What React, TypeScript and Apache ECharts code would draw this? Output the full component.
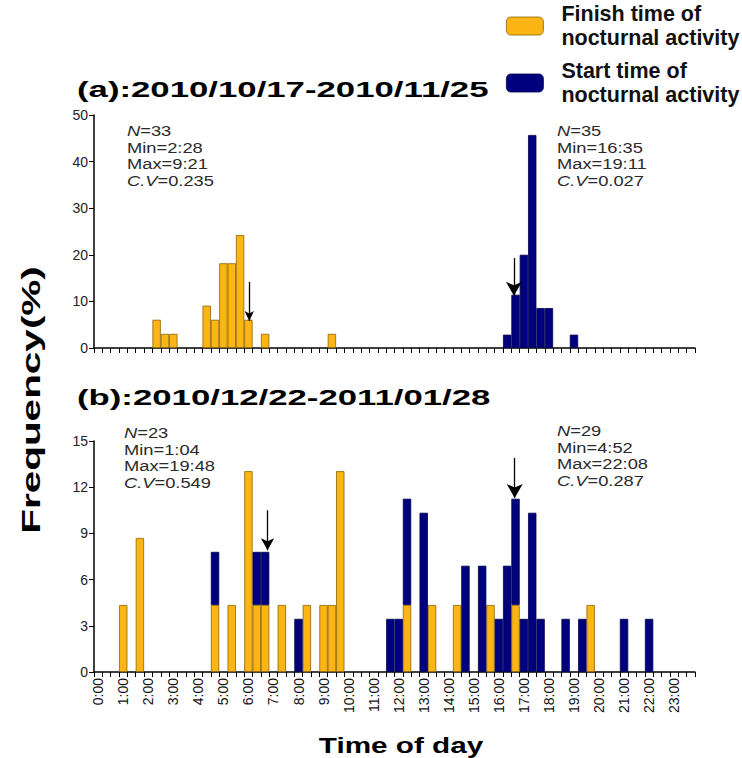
import React, { useEffect, useRef } from "react";
import * as echarts from "echarts";

// 20-minute bins over the day: "0:00", "0:20", ... "23:40"
const BIN_LABELS: string[] = [];
for (let h = 0; h < 24; h++) for (const m of ["00", "20", "40"]) BIN_LABELS.push(`${h}:${m}`);

// (a) 2010/10/17-2010/11/25  — percentages per 20-min bin (bin index -> value)
const aFinishBins = [7, 8, 9, 13, 14, 15, 16, 17, 18, 20, 28];
const aFinishPct = [6.06, 3.03, 3.03, 9.09, 6.06, 18.18, 18.18, 24.24, 6.06, 3.03, 3.03];
const aStartBins = [49, 50, 51, 52, 53, 54, 57];
const aStartPct = [2.86, 11.43, 20.0, 45.71, 8.57, 8.57, 2.86];

// (b) 2010/12/22-2011/01/28
const bFinishBins = [3, 5, 14, 16, 18, 19, 20, 22, 25, 27, 28, 29, 37, 40, 43, 47, 50, 59];
const bFinishPct = [4.35, 8.7, 4.35, 4.35, 13.04, 4.35, 4.35, 4.35, 4.35, 4.35, 4.35, 13.04, 4.35, 4.35, 4.35, 4.35, 4.35, 4.35];
const bStartBins = [14, 19, 20, 24, 35, 36, 37, 39, 44, 46, 48, 49, 50, 51, 52, 53, 56, 58, 63, 66];
const bStartPct = [3.45, 3.45, 3.45, 3.45, 3.45, 3.45, 6.9, 10.34, 6.9, 6.9, 3.45, 6.9, 6.9, 3.45, 10.34, 3.45, 3.45, 3.45, 3.45, 3.45];

// mean-time arrows: [hour of day, arrow tail %, arrow tip %]
const aFinishArrow = [6.2, 14.2, 5.8];
const aStartArrow = [16.77, 19.3, 11.2];
const bFinishArrow = [6.93, 10.5, 7.9];
const bStartArrow = [16.8, 13.9, 11.3];

const statsAFinish = ["{i|N}=33", "Min=2:28", "Max=9:21", "{i|C.V}=0.235"];
const statsAStart = ["{i|N}=35", "Min=16:35", "Max=19:11", "{i|C.V}=0.027"];
const statsBFinish = ["{i|N}=23", "Min=1:04", "Max=19:48", "{i|C.V}=0.549"];
const statsBStart = ["{i|N}=29", "Min=4:52", "Max=22:08", "{i|C.V}=0.287"];

const FINISH = "Finish time of\nnocturnal activity";
const START = "Start time of\nnocturnal activity";
const ORANGE = "#FDB515";
const NAVY = "#00007E";
const FONT = "'Liberation Sans', Arial, sans-serif";

function toBins(bins: number[], vals: number[]) {
  const arr: (number | string)[] = BIN_LABELS.map(() => "-");
  bins.forEach((b, i) => (arr[b] = vals[i]));
  return arr;
}

function arrowSeries(xIdx: number, yIdx: number, arr: number[], size: number[]) {
  return {
    type: "line",
    xAxisIndex: xIdx,
    yAxisIndex: yIdx,
    data: [],
    silent: true,
    markLine: {
      silent: true,
      symbol: ["none", "arrow"],
      symbolSize: size,
      label: { show: false },
      lineStyle: { color: "#000", width: 1.3, type: "solid" },
      data: [[{ coord: [arr[0], arr[1]] }, { coord: [arr[0], arr[2]] }]],
    },
  };
}

function statText(x: number, y: number, lines: string[]) {
  return {
    type: "text",
    x,
    y,
    scaleX: 1.22,
    style: {
      text: lines.join("\n"),
      fontFamily: FONT,
      fontSize: 15,
      lineHeight: 16.5,
      fill: "#2a2a2a",
      rich: { i: { fontStyle: "italic", fontFamily: FONT, fontSize: 15, lineHeight: 16.5, fill: "#2a2a2a" } },
    },
  };
}

const xCat = (grid: number, labels: boolean) => ({
  type: "category",
  gridIndex: grid,
  data: BIN_LABELS,
  boundaryGap: true,
  axisLine: { show: true, lineStyle: { color: "#000", width: 1.5 } },
  axisTick: { show: true, interval: 0, length: 5, lineStyle: { color: "#000", width: 1 } },
  axisLabel: labels
    ? { show: true, interval: 2, rotate: 90, fontSize: 14, fontFamily: FONT, color: "#111", margin: 6 }
    : { show: false },
  splitLine: { show: false },
});

const yVal = (grid: number, max: number, interval: number) => ({
  type: "value",
  gridIndex: grid,
  min: 0,
  max,
  interval,
  axisLine: { show: true, lineStyle: { color: "#000", width: 1.5 } },
  axisTick: { show: true, length: 5, lineStyle: { color: "#000" } },
  axisLabel: { fontSize: 14, fontFamily: FONT, color: "#222", margin: 6 },
  splitLine: { show: false },
});

export default function App() {
  const ref = useRef<HTMLDivElement>(null);
  useEffect(() => {
    if (!ref.current) return;
    const chart = echarts.init(ref.current, null, { renderer: "svg" });
    const barStyle = (c: string, b: string) => ({ color: c, borderColor: b, borderWidth: 0.8 });
    chart.setOption({
      animation: false,
      backgroundColor: "#fff",
      grid: [
        { left: 94, top: 115, width: 601, height: 233 },
        { left: 94, top: 441, width: 601, height: 231 },
      ],
      legend: {
        data: [FINISH, START],
        orient: "vertical",
        left: 506,
        top: 2,
        padding: 0,
        itemWidth: 37,
        itemHeight: 18,
        itemGap: 9,
        selectedMode: false,
        itemStyle: { borderWidth: 0.8 },
        textStyle: { fontFamily: FONT, fontWeight: "bold", fontSize: 21.5, lineHeight: 24, color: "#111", padding: [0, 0, 0, 13] },
      },
      xAxis: [
        xCat(0, false),
        xCat(1, true),
        { type: "value", gridIndex: 0, min: 0, max: 24, show: false },
        { type: "value", gridIndex: 1, min: 0, max: 24, show: false },
      ],
      yAxis: [yVal(0, 50, 10), yVal(1, 15, 3)],
      series: [
        { name: FINISH, type: "bar", xAxisIndex: 0, yAxisIndex: 0, stack: "a", barCategoryGap: "0%", itemStyle: barStyle(ORANGE, "#8a6500"), data: toBins(aFinishBins, aFinishPct) },
        { name: START, type: "bar", xAxisIndex: 0, yAxisIndex: 0, stack: "a", barCategoryGap: "0%", itemStyle: barStyle(NAVY, "#00004a"), data: toBins(aStartBins, aStartPct) },
        { name: FINISH, type: "bar", xAxisIndex: 1, yAxisIndex: 1, stack: "b", barCategoryGap: "0%", itemStyle: barStyle(ORANGE, "#8a6500"), data: toBins(bFinishBins, bFinishPct) },
        { name: START, type: "bar", xAxisIndex: 1, yAxisIndex: 1, stack: "b", barCategoryGap: "0%", itemStyle: barStyle(NAVY, "#00004a"), data: toBins(bStartBins, bStartPct) },
        arrowSeries(2, 0, aFinishArrow, [7, 10]),
        arrowSeries(2, 0, aStartArrow, [12, 14]),
        arrowSeries(3, 1, bFinishArrow, [10, 12]),
        arrowSeries(3, 1, bStartArrow, [12, 14]),
      ],
      graphic: [
        { type: "text", x: 77, y: 78, scaleX: 1.58, style: { text: "(a):2010/10/17-2010/11/25", fontFamily: FONT, fontWeight: "bold", fontSize: 22, fill: "#000" } },
        { type: "text", x: 77, y: 386, scaleX: 1.58, style: { text: "(b):2010/12/22-2011/01/28", fontFamily: FONT, fontWeight: "bold", fontSize: 22, fill: "#000" } },
        { type: "text", x: 31, y: 400, rotation: Math.PI / 2, scaleX: 1.62, style: { text: "Frequency(%)", fontFamily: FONT, fontWeight: "bold", fontSize: 25, fill: "#000", align: "center", verticalAlign: "middle" } },
        { type: "text", x: 401, y: 745, scaleX: 1.35, style: { text: "Time of day", fontFamily: FONT, fontWeight: "bold", fontSize: 22, fill: "#000", align: "center", verticalAlign: "middle" } },
        statText(127, 123, statsAFinish),
        statText(557, 123, statsAStart),
        statText(124, 425, statsBFinish),
        statText(557, 423, statsBStart),
      ],
    });
    return () => chart.dispose();
  }, []);
  return <div ref={ref} style={{ position: "absolute", left: 0, top: 0, width: 742, height: 758 }} />;
}
